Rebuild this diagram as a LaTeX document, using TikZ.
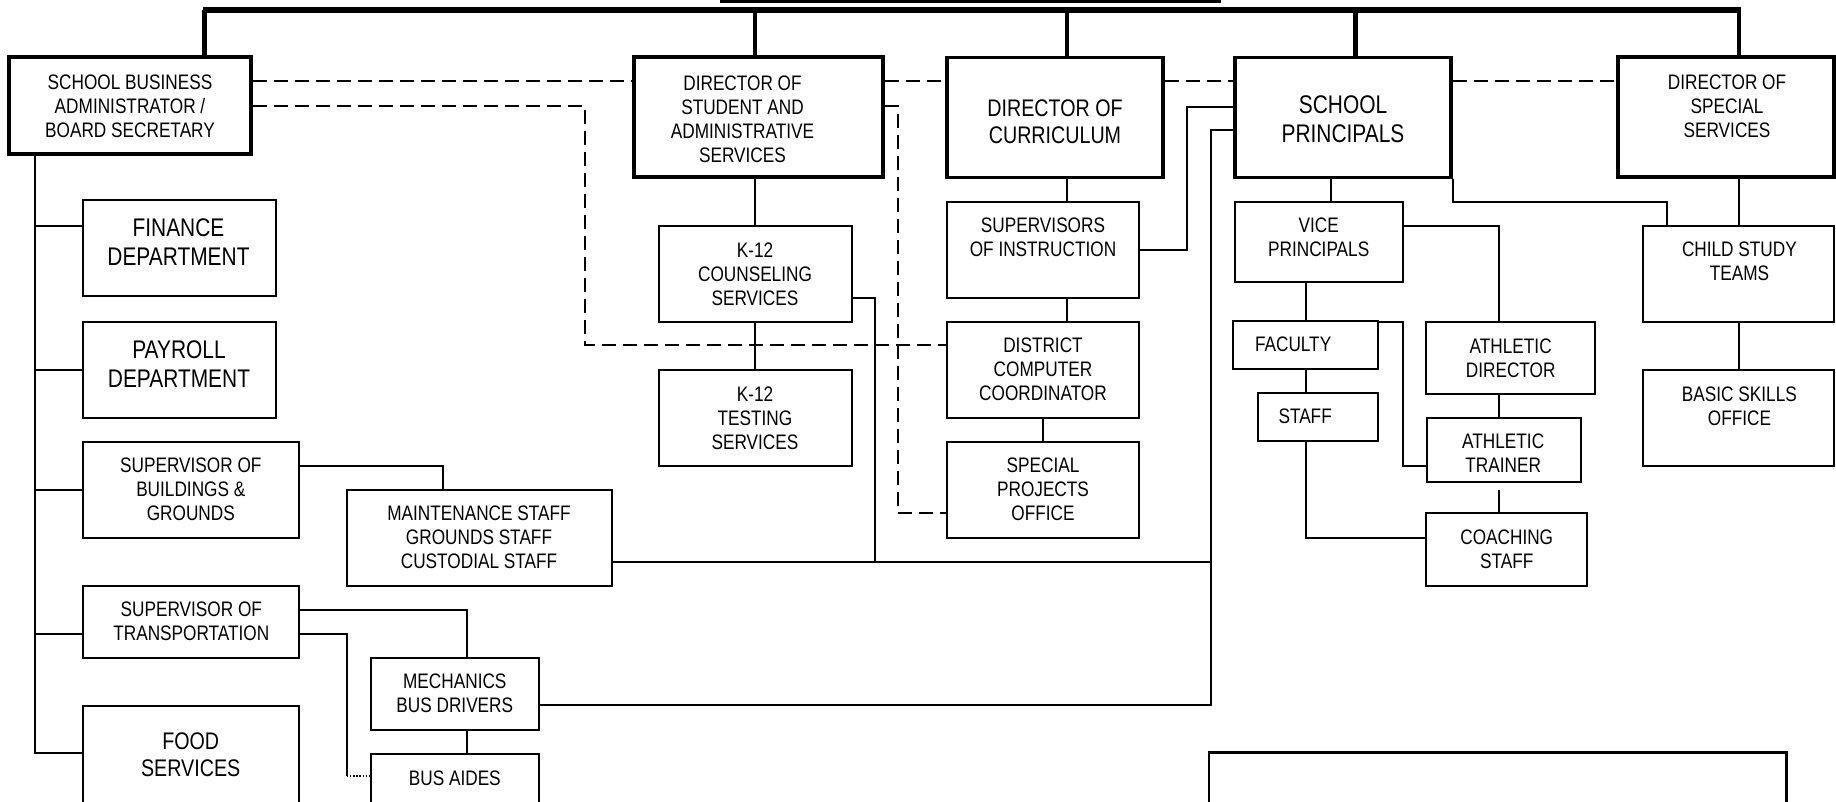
\documentclass[tikz,border=0pt]{standalone}
\usepackage{fontspec}
\setmainfont{Liberation Sans}[FakeStretch=0.82]
\begin{document}
\begin{tikzpicture}[x=1pt,y=-1pt,
  ln/.style={line width=2pt},
  dsh/.style={line width=2pt,dash pattern=on 14pt off 7pt},
  dotln/.style={line width=1.6pt,dash pattern=on 1.6pt off 1.6pt},
  bar/.style={line width=6pt},
  drop/.style={line width=4.5pt},
  tbox/.style={draw,line width=3.5pt,inner sep=0pt,rectangle},
  nbox/.style={draw,line width=2pt,inner sep=0pt,rectangle},
  sm/.style={align=center,inner sep=0pt,font=\fontsize{21}{24}\selectfont},
  bgA/.style={align=center,inner sep=0pt,font=\fontsize{25.5}{29.5}\selectfont},
  bgB/.style={align=center,inner sep=0pt,font=\fontsize{24}{27}\selectfont},
]
\fill[white] (0,0) rectangle (1836,802);
\useasboundingbox (0,0) rectangle (1836,802);

% ---------- top level ----------
\node[tbox,minimum width=497pt,minimum height=31pt] (title) at (970.5,-14) {};
\node[tbox,minimum width=242pt,minimum height=97pt] (sba) at (130,105.5) {};
\node[tbox,minimum width=249pt,minimum height=120pt] (dsas) at (758.5,117) {};
\node[tbox,minimum width=216pt,minimum height=120pt] (doc) at (1055,117.5) {};
\node[tbox,minimum width=216pt,minimum height=120pt] (sp) at (1343,117.5) {};
\node[tbox,minimum width=216pt,minimum height=120pt] (dss) at (1726,117) {};

\node[sm] at (130,105.8) {SCHOOL BUSINESS\\ADMINISTRATOR /\\BOARD SECRETARY};
\node[sm] at (742.5,119) {DIRECTOR OF\\STUDENT AND\\ADMINISTRATIVE\\SERVICES};
\node[bgB] at (1055,121.5) {DIRECTOR OF\\CURRICULUM};
\node[bgA] at (1343,119) {SCHOOL\\PRINCIPALS};
\node[sm] at (1727,106.5) {DIRECTOR OF\\SPECIAL\\SERVICES};

\coordinate (barL) at (202.5,9.7);
\coordinate (barR) at (1741,9.7);
\draw[bar] (barL) -- (barR);
\draw[drop] (204.5,9.7) -- (sba.north -| 204.5,0);
\draw[drop] (755,9.7) -- (dsas.north -| 755,0);
\draw[drop] (1067,9.7) -- (doc.north -| 1067,0);
\draw[drop] (1355.5,9.7) -- (sp.north -| 1355.5,0);
\draw[drop] (1739,9.7) -- (dss.north -| 1739,0);

% ---------- business administrator branch ----------
\node[nbox,minimum width=193pt,minimum height=95.5pt] (fin) at (179,247.8) {};
\node[nbox,minimum width=193pt,minimum height=96.6pt] (pay) at (179,370) {};
\node[nbox,minimum width=216.5pt,minimum height=96.6pt] (sbg) at (190.8,490) {};
\node[nbox,minimum width=265pt,minimum height=96pt] (mnt) at (479.3,538) {};
\node[nbox,minimum width=216pt,minimum height=72.6pt] (supt) at (191,622) {};
\node[nbox,minimum width=168pt,minimum height=71.7pt] (mech) at (454.8,693.9) {};
\node[nbox,minimum width=168pt,minimum height=54pt] (aides) at (454.8,781) {};
\node[nbox,minimum width=216pt,minimum height=124pt] (food) at (191,767.7) {};

\node[bgA] at (178.5,242) {FINANCE\\DEPARTMENT};
\node[bgA] at (179,364.3) {PAYROLL\\DEPARTMENT};
\node[sm] at (190.8,489) {SUPERVISOR OF\\BUILDINGS \&\\GROUNDS};
\node[sm] at (479,537.5) {MAINTENANCE STAFF\\GROUNDS STAFF\\CUSTODIAL STAFF};
\node[sm] at (191.3,621.7) {SUPERVISOR OF\\TRANSPORTATION};
\node[sm] at (454.8,693.3) {MECHANICS\\BUS DRIVERS};
\node[sm] at (454.8,778.3) {BUS AIDES};
\node[bgB] at (190.7,754.7) {FOOD\\SERVICES};

\draw[ln] (sba.south -| 35,0) |- (fin.west |- 0,225.7);
\draw[ln] (sba.south -| 35,0) |- (pay.west |- 0,370);
\draw[ln] (sba.south -| 35,0) |- (sbg.west |- 0,490);
\draw[ln] (sba.south -| 35,0) |- (supt.west |- 0,634);
\draw[ln] (sba.south -| 35,0) |- (food.west |- 0,753.3);
\draw[ln] (sbg.east |- 0,465.7) -| (mnt.north -| 442.9,0);
\draw[ln] (supt.east |- 0,610) -| (mech.north -| 467.3,0);
\coordinate (bend) at (346.5,776);
\draw[ln] (supt.east |- 0,634) -| (bend);
\draw[dotln] (bend) -- (aides.west |- bend);
\draw[ln] (mech.south -| 467.3,0) -- (aides.north -| 467.3,0);

% ---------- student and administrative services ----------
\node[nbox,minimum width=193pt,minimum height=96.6pt] (couns) at (755,274) {};
\node[nbox,minimum width=193pt,minimum height=96pt] (test) at (755,418) {};
\node[sm] at (755,274.2) {K-12\\COUNSELING\\SERVICES};
\node[sm] at (755,418) {K-12\\TESTING\\SERVICES};
\draw[ln] (dsas.south -| 755,0) -- (couns.north -| 755,0);
\draw[ln] (couns.south -| 755,0) -- (test.north -| 755,0);

% ---------- curriculum ----------
\node[nbox,minimum width=192.5pt,minimum height=95.7pt] (supi) at (1043,249.8) {};
\node[nbox,minimum width=192.5pt,minimum height=95.7pt] (dcc) at (1043,370.2) {};
\node[nbox,minimum width=192.5pt,minimum height=96pt] (spo) at (1043,489.7) {};
\node[sm] at (1043,237.2) {SUPERVISORS\\OF INSTRUCTION};
\node[sm] at (1043,369.7) {DISTRICT\\COMPUTER\\COORDINATOR};
\node[sm] at (1043,489) {SPECIAL\\PROJECTS\\OFFICE};
\draw[ln] (doc.south -| 1067.4,0) -- (supi.north -| 1067.4,0);
\draw[ln] (supi.south -| 1067.4,0) -- (dcc.north -| 1067.4,0);
\draw[ln] (dcc.south -| 1042.9,0) -- (spo.north -| 1042.9,0);

% ---------- principals ----------
\node[nbox,minimum width=168pt,minimum height=80pt] (vp) at (1318.8,242) {};
\node[nbox,minimum width=144.4pt,minimum height=48.3pt] (fac) at (1305.5,344.8) {};
\node[nbox,minimum width=120pt,minimum height=48pt] (staff) at (1317.6,416.7) {};
\node[nbox,minimum width=168.3pt,minimum height=71.7pt] (ad) at (1510.5,358.2) {};
\node[nbox,minimum width=154pt,minimum height=64.6pt] (at) at (1503.5,450) {};
\node[nbox,minimum width=161pt,minimum height=72.7pt] (coach) at (1506.9,549.7) {};
\node[sm] at (1318.7,237.2) {VICE\\PRINCIPALS};
\node[sm,anchor=west] at (1254.8,344.7) {FACULTY};
\node[sm,anchor=west] at (1278.3,416.7) {STAFF};
\node[sm] at (1510.7,357.8) {ATHLETIC\\DIRECTOR};
\node[sm] at (1503.2,453) {ATHLETIC\\TRAINER};
\node[sm] at (1506.7,549.3) {COACHING\\STAFF};

\draw[ln] (sp.south -| 1331,0) -- (vp.north -| 1331,0);
\draw[ln] (vp.east |- 0,225.7) -| (ad.north -| 1499.4,0);
\draw[ln] (vp.south -| 1306.3,0) -- (fac.north -| 1306.3,0);
\draw[ln] (fac.south -| 1306.3,0) -- (staff.north -| 1306.3,0);
\draw[ln] (fac.east |- 0,322.3) -| (1403,465.5) -- (at.west |- 0,465.5);
\draw[ln] (staff.south -| 1306.3,0) |- (coach.west |- 0,538.3);
\draw[ln] (ad.south -| 1499.4,0) -- (at.north -| 1499.4,0);
\coordinate (atgap) at (1499.4,490);
\draw[ln] (atgap) -- (coach.north -| atgap);

% ---------- special services ----------
\node[nbox,minimum width=191pt,minimum height=96.6pt] (cst) at (1738.5,274) {};
\node[nbox,minimum width=191pt,minimum height=96pt] (bso) at (1738.5,418) {};
\node[sm] at (1739.4,261.7) {CHILD STUDY\\TEAMS};
\node[sm] at (1739.4,406.3) {BASIC SKILLS\\OFFICE};
\draw[ln] (dss.south -| 1739,0) -- (cst.north -| 1739,0);
\draw[ln] (cst.south -| 1739,0) -- (bso.north -| 1739,0);
\draw[ln] (sp.south east) |- (1667.3,202) -- (cst.north -| 1667.3,0);

% ---------- cross links ----------
\coordinate (j1) at (1186.7,106.7);
\coordinate (j2) at (1211,130);
\draw[ln] (supi.east |- 0,250) -| (j1) -- (sp.west |- j1);
\draw[ln] (mech.east |- 0,705) -| (j2) -- (sp.west |- j2);
\draw[ln] (mnt.east |- 0,561.7) -- (j2 |- 0,561.7);
\draw[ln] (couns.east |- 0,297.7) -| (874.8,561.7);

% ---------- dashed staff links ----------
\draw[dsh] (sba.east |- 0,81) -- (dsas.west |- 0,81);
\draw[dsh] (dsas.east |- 0,81) -- (doc.west |- 0,81);
\draw[dsh] (doc.east |- 0,81) -- (sp.west |- 0,81);
\draw[dsh] (sp.east |- 0,81) -- (dss.west |- 0,81);
\draw[dsh] (sba.east |- 0,106) -| (585.2,344.5) -- (dcc.west |- 0,344.5);
\draw[dsh] (dsas.east |- 0,106) -| (897.7,512.7) -- (spo.west |- 0,512.7);

% ---------- box at lower right ----------
\node[nbox,line width=2.5pt,minimum width=577.6pt,minimum height=78pt] (note) at (1497.8,791.3) {};
\end{tikzpicture}
\end{document}
